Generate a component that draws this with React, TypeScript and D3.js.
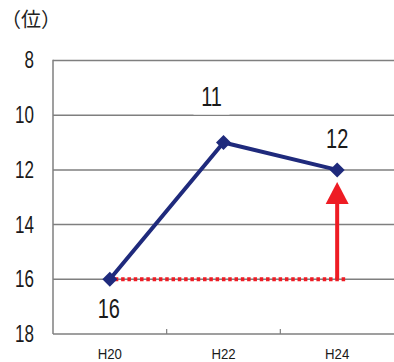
import React from "react";
import * as d3 from "d3";

const categories = ["H20", "H22", "H24"];
const ranks = [16, 11, 12];
const yTicks = [8, 10, 12, 14, 16, 18];
const unitLabel = "（位）";
const baseRank = 16;

const W = 394;
const H = 362;
const LEFT = 53;
const RIGHT = 394;
const TOP = 60.5;
const BOTTOM = 334;
const NAVY = "#1f2a7c";
const RED = "#ee1c24";
const GRID = "#7f7f7f";
const labelOffsets = [
  [-1, 29],
  [-12, -46],
  [0, -32],
];

export default function App() {
  const x = d3.scaleBand<string>().domain(categories).range([LEFT, RIGHT]).padding(0);
  const y = d3.scaleLinear().domain([8, 18]).range([TOP, BOTTOM]);
  const cx = (c: string) => (x(c) as number) + x.bandwidth() / 2;
  const pts: [number, number][] = categories.map((c, i) => [cx(c), y(ranks[i])]);
  const line = d3.line<[number, number]>()(pts) as string;
  const lastX = cx(categories[categories.length - 1]);
  const lastY = y(ranks[ranks.length - 1]);
  const baseY = y(baseRank);
  const headTip = lastY + 12;
  const headBase = headTip + 22;
  const boundaries = categories.map((c) => x(c) as number).slice(1);

  return (
    <svg
      width={W}
      height={H}
      style={{ position: "absolute", left: 0, top: 0, background: "#fff" }}
      fontFamily="'Liberation Sans', Arial, sans-serif"
    >
      <text x={1} y={27} fontSize={20} fontFamily="'Noto Sans CJK JP', sans-serif" fill="#222">
        {unitLabel}
      </text>
      {yTicks.map((t) => (
        <g key={t}>
          {t !== 18 && (
            <line x1={LEFT} x2={RIGHT} y1={y(t)} y2={y(t)} stroke={GRID} strokeWidth={1.5} />
          )}
          <text
            transform={`translate(34,${y(t)}) scale(0.74,1)`}
            textAnchor="end"
            dominantBaseline="central"
            fontSize={23}
            fill="#1a1a1a"
          >
            {t}
          </text>
        </g>
      ))}
      <line x1={LEFT} x2={LEFT} y1={TOP - 0.75} y2={BOTTOM} stroke={GRID} strokeWidth={1.5} />
      <line x1={LEFT} x2={RIGHT} y1={BOTTOM} y2={BOTTOM} stroke={GRID} strokeWidth={1.5} />
      {boundaries.map((b, i) => (
        <line key={i} x1={b} x2={b} y1={BOTTOM} y2={BOTTOM - 5} stroke={GRID} strokeWidth={1.2} />
      ))}
      {categories.map((c) => (
        <text
          key={c}
          transform={`translate(${cx(c)},${H - 3}) scale(0.88,1)`}
          textAnchor="middle"
          fontSize={15}
          fill="#1a1a1a"
        >
          {c}
        </text>
      ))}
      {/* red dotted baseline */}
      <line
        x1={cx(categories[0]) + 5}
        x2={lastX + 10}
        y1={baseY}
        y2={baseY}
        stroke={RED}
        strokeWidth={4}
        strokeDasharray="3.5 2.8"
      />
      {/* red arrow */}
      <line x1={lastX} x2={lastX} y1={baseY} y2={headBase - 1} stroke={RED} strokeWidth={4} />
      <path
        d={`M${lastX},${headTip} L${lastX + 11.5},${headBase} L${lastX - 11.5},${headBase} Z`}
        fill={RED}
      />
      <path d={line} fill="none" stroke={NAVY} strokeWidth={4} strokeLinejoin="round" />
      {pts.map(([px, py], i) => (
        <path
          key={i}
          d={`M${px},${py - 7.5} L${px + 7.5},${py} L${px},${py + 7.5} L${px - 7.5},${py} Z`}
          fill={NAVY}
        />
      ))}
      {pts.map(([px, py], i) => {
        const lx = px + labelOffsets[i][0];
        const ly = py + labelOffsets[i][1];
        return (
          <g key={i}>
            <rect x={lx - 18} y={ly - 18} width={36} height={36} fill="#fff" />
            <text
              transform={`translate(${lx},${ly}) scale(0.74,1)`}
              textAnchor="middle"
              dominantBaseline="central"
              fontSize={27}
              fill="#1a1a1a"
            >
              {ranks[i]}
            </text>
          </g>
        );
      })}
    </svg>
  );
}
